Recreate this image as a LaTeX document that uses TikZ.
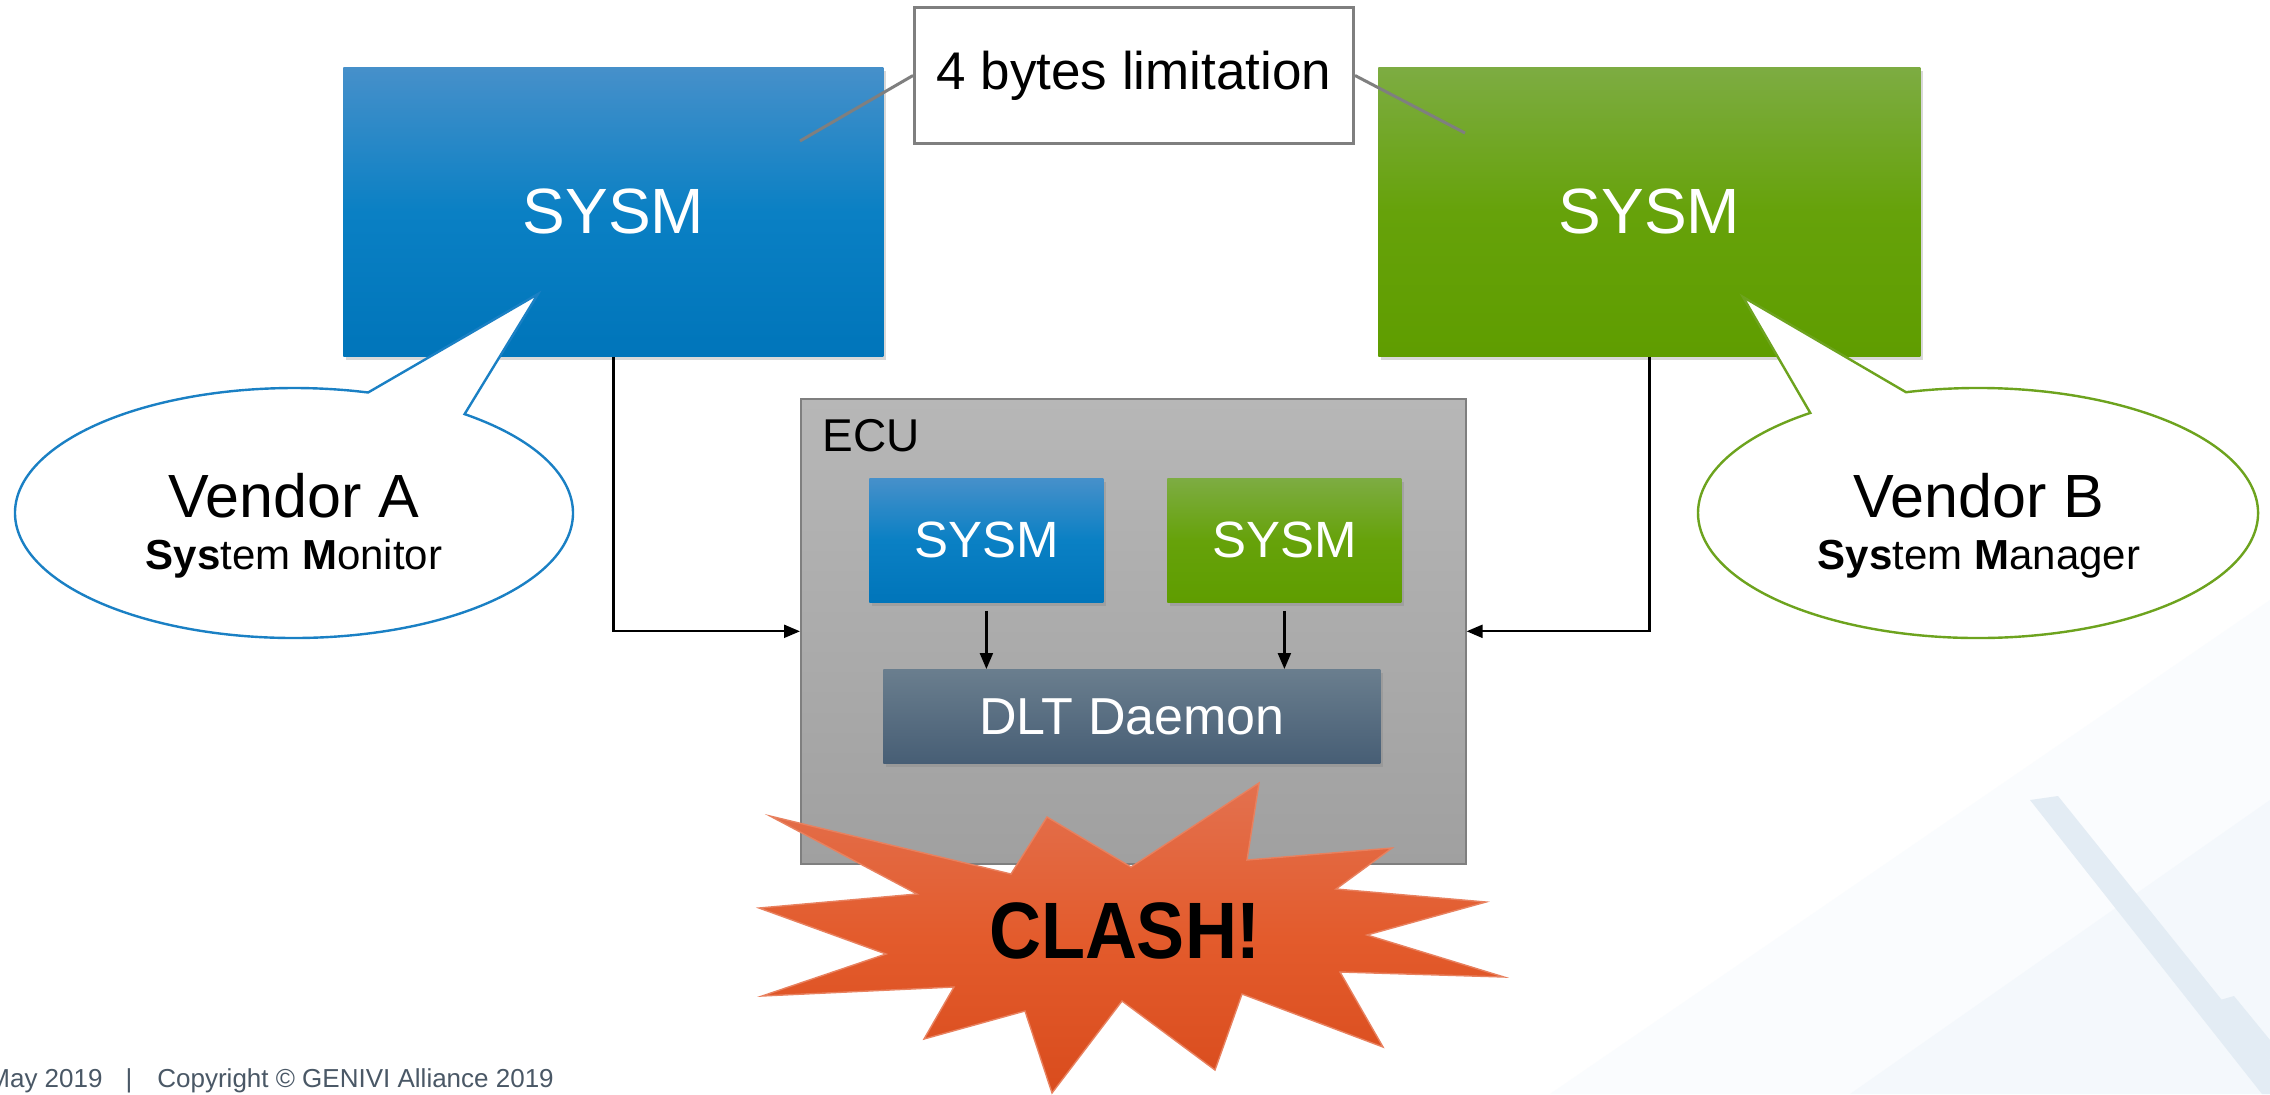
\documentclass[tikz,border=0pt]{standalone}
\usepackage{fontspec}
\setmainfont{Liberation Sans}
\usetikzlibrary{shadows,arrows.meta}
\definecolor{blueT}{HTML}{4690CA}
\definecolor{blueM}{HTML}{0A80C4}
\definecolor{blueB}{HTML}{0075BA}
\definecolor{greenT}{HTML}{7DAC42}
\definecolor{greenM}{HTML}{66A20A}
\definecolor{greenB}{HTML}{5F9D00}
\definecolor{ecuT}{HTML}{B7B7B7}
\definecolor{ecuB}{HTML}{A0A0A0}
\definecolor{dltT}{HTML}{6A7E8E}
\definecolor{dltB}{HTML}{475E75}
\definecolor{clashT}{HTML}{E3714F}
\definecolor{clashM}{HTML}{E35B2C}
\definecolor{clashB}{HTML}{D94C1D}
\definecolor{clashE}{HTML}{E8815F}
\definecolor{outA}{HTML}{1A80C4}
\definecolor{outB}{HTML}{6DA31E}
\definecolor{limgray}{HTML}{7F7F7F}
\definecolor{footer}{HTML}{4A5866}
\definecolor{tintA}{HTML}{FAFCFE}
\definecolor{tintB}{HTML}{F4F8FC}
\definecolor{streak}{HTML}{E3ECF4}
\newcommand\myfs[1]{\fontsize{#1}{#1}\selectfont}
\tikzset{
  boxbase/.style={anchor=north west, inner sep=0pt, text=white,
    drop shadow={shadow xshift=1.5pt, shadow yshift=-2pt, opacity=0.3}},
  bluebox/.style={boxbase, top color=blueT, bottom color=blueB, middle color=blueM},
  greenbox/.style={boxbase, top color=greenT, bottom color=greenB, middle color=greenM},
  dltbox/.style={boxbase, top color=dltT, bottom color=dltB},
  ecubox/.style={anchor=north west, inner sep=0pt, draw=limgray, line width=0.8pt,
    top color=ecuT, bottom color=ecuB},
  arr/.style={line width=1.1pt, -{Triangle[length=8pt,width=6.5pt]}},
  limline/.style={draw=limgray, line width=1.5pt},
  calloutA/.style={draw=outA, line width=1.2pt, fill=white},
  calloutB/.style={draw=outB, line width=1.2pt, fill=white},
}
\begin{document}
\begin{tikzpicture}[x=0.5pt,y=-0.5pt]
\useasboundingbox (0,0) rectangle (2270,1094);
\fill[white] (0,0) rectangle (2270,1094);
% faint background
\fill[tintA] (1550,1094) -- (2270,600) -- (2270,1094) -- cycle;
\fill[tintB] (1850,1094) -- (2270,800) -- (2270,1094) -- cycle;
\fill[streak] (2030,800) -- (2058,796) -- (2270,1060) -- (2270,1094) -- (2262,1094) -- cycle;
\fill[streak] (2220,1000) -- (2234,996) -- (2270,1040) -- (2270,1060) -- cycle;

% big boxes
\node[bluebox, minimum width=270pt, minimum height=144.5pt, font=\myfs{32}] (sysmA) at (343,67) {SYSM};
\node[greenbox, minimum width=271pt, minimum height=144.5pt, font=\myfs{32}] (sysmB) at (1378,67) {SYSM};

% limitation callout
\coordinate (limA) at (800,141);
\coordinate (limB) at (1465,133);
\node[anchor=north west, inner sep=0pt, minimum width=219.5pt, minimum height=68pt,
      draw=limgray, line width=1.5pt, fill=white, font=\myfs{26.5}] (lim) at (913,6) {4 bytes limitation};
\draw[limline] (lim.west) -- (limA);
\draw[limline] (lim.east) -- (limB);

% ECU
\node[ecubox, minimum width=332.5pt, minimum height=232.5pt] (ecu) at (800,398) {};
\node[anchor=base west, inner sep=0pt, font=\myfs{23}] (ecul) at (822,451) {ECU};
\node[bluebox, minimum width=117pt, minimum height=62pt, font=\myfs{25.5}] (smA) at (869,478) {SYSM};
\node[greenbox, minimum width=117pt, minimum height=62pt, font=\myfs{25.5}] (smB) at (1167,478) {SYSM};
\node[dltbox, minimum width=248.5pt, minimum height=47pt, font=\myfs{26}] (dlt) at (883,669) {DLT Daemon};
\draw[arr] ([yshift=-4pt]smA.south) -- (smA.south |- dlt.north);
\draw[arr] ([yshift=-4pt]smB.south) -- (smB.south |- dlt.north);

% big arrows
\draw[arr] (sysmA.south) |- (ecu.west);
\draw[arr] (sysmB.south) |- (ecu.east);

% callout A
\coordinate (tipA) at (538,294);
\draw[calloutA] (464.6,414.1) arc[start angle=-52.3, end angle=285.4, x radius=279, y radius=125] -- (tipA) -- cycle;
\node[anchor=base, inner sep=0pt, font=\myfs{30.5}] (vA) at (294,517) {Vendor A};
\node[anchor=base, inner sep=0pt, font=\myfs{21}] (vAs) at (294,569) {\textbf{Sys}tem \textbf{M}onitor};

% callout B
\coordinate (tipB) at (1743,297);
\draw[calloutB] (1906.0,392.2) arc[start angle=255.1, end angle=593.2, x radius=280, y radius=125] -- (tipB) -- cycle;
\node[anchor=base, inner sep=0pt, font=\myfs{30.5}] (vB) at (1979,517) {Vendor B};
\node[anchor=base, inner sep=0pt, font=\myfs{21}] (vBs) at (1979,569) {\textbf{Sys}tem \textbf{M}anager};

% clash starburst
\path[draw=clashE, line width=0.7pt, top color=clashT, bottom color=clashB, middle color=clashM]
  (770,816) -- (1011,874) -- (1047,817) -- (1131,867) -- (1259,783) -- (1247,860)
  -- (1392,848) -- (1336,889) -- (1486,902) -- (1367,935) -- (1504,977) -- (1340,972)
  -- (1383,1047) -- (1242,994) -- (1215,1070) -- (1122,1001) -- (1052,1093) -- (1025,1011)
  -- (924,1039) -- (954,987) -- (762,996) -- (886,954) -- (759,908) -- (917,894) -- cycle;
\node[inner sep=0pt, font=\myfs{40}\bfseries, xscale=0.9] (clash) at (1125,931) {CLASH!};

% footer
\node[anchor=base east, inner sep=0pt, text=footer, font=\myfs{13}] (fdate) at (103,1087) {May 2019};
\node[anchor=base, inner sep=0pt, text=footer, font=\myfs{13}] (fbar) at (129,1087) {|};
\node[anchor=base west, inner sep=0pt, text=footer, font=\myfs{13}] (fcopy) at (157,1087) {Copyright © GENIVI Alliance 2019};
\end{tikzpicture}
\end{document}
